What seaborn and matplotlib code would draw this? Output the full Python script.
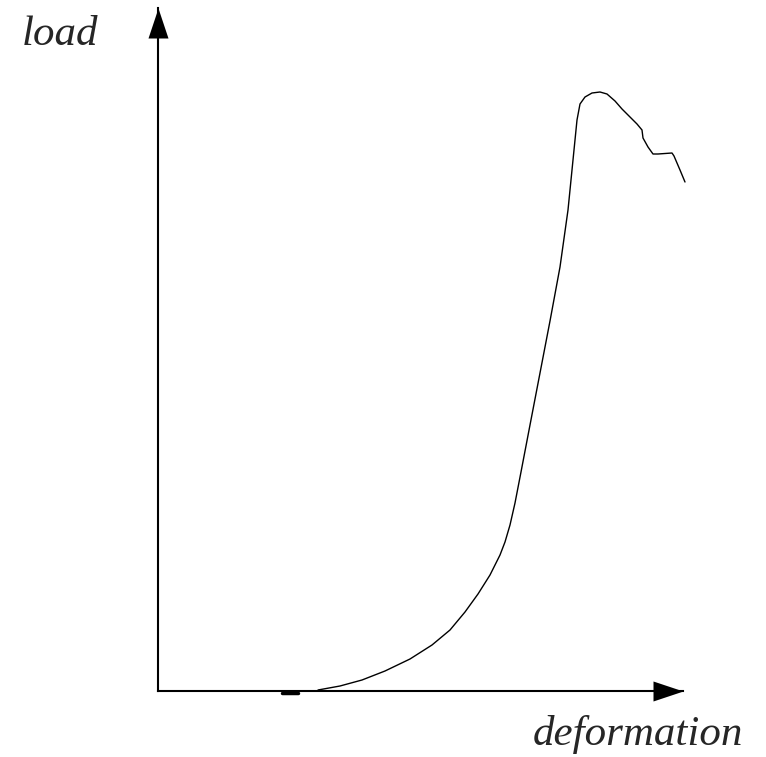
import matplotlib.pyplot as plt
import seaborn as sns

# Curve (arbitrary units, origin at the axes corner)
deformation = [160, 182, 204, 227, 252, 274, 292, 307, 320, 332, 342, 347,
               352, 357, 363, 372, 382, 392, 402, 410, 415, 419, 422, 427,
               434, 442, 449, 457, 464, 472, 479, 484, 485, 490, 495, 500,
               514, 516, 522, 527]
load = [1, 5, 11, 20, 32, 46, 61, 79, 97, 116, 136, 149,
        166, 188, 219, 266, 318, 370, 424, 481, 531, 571, 587, 594,
        598, 599, 597, 590, 582, 574, 567, 561, 553, 544, 537, 537,
        538, 535, 521, 509]

# small dash sitting just under the x axis
dash_x = [124, 140]
dash_y = [-2, -2]

x_label = "deformation"
y_label = "load"

sns.set_style("white")
plt.rcParams['font.family'] = ['Liberation Serif', 'DejaVu Serif']

fig = plt.figure(figsize=(7.66, 7.57), dpi=100)
ax = fig.add_axes([158 / 766, 66 / 757, 525 / 766, 683 / 757])

sns.lineplot(x=deformation, y=load, sort=False, estimator=None,
             color='black', linewidth=1.0, ax=ax)
sns.lineplot(x=dash_x, y=dash_y, sort=False, estimator=None,
             color='black', linewidth=2.5, ax=ax)
for ln in ax.lines:
    ln.set_clip_on(False)

ax.set_xlim(0, 525)
ax.set_ylim(0, 683)
ax.set_xticks([])
ax.set_yticks([])
for s in ['top', 'right']:
    ax.spines[s].set_visible(False)
for s in ['left', 'bottom']:
    ax.spines[s].set_color('black')
    ax.spines[s].set_linewidth(1.5)

# arrow heads at the ends of the axes (30 long, 20 wide)
right_arrow = [(1, 0), (-1, 0.667), (-1, -0.667), (1, 0)]
up_arrow = [(0, 1), (0.667, -1), (-0.667, -1), (0, 1)]
ax.plot(510, 0, marker=right_arrow, color='black', markersize=21.6,
        markeredgewidth=0, clip_on=False)
ax.plot(0, 668, marker=up_arrow, color='black', markersize=21.6,
        markeredgewidth=0, clip_on=False)

fig.text(22 / 766, 1 - 45 / 757, y_label, ha='left', va='baseline',
         fontsize=31, style='italic')
fig.text(533 / 766, 1 - 745 / 757, x_label, ha='left', va='baseline',
         fontsize=31, style='italic')

fig.savefig('out.png', dpi=100, facecolor='white')
